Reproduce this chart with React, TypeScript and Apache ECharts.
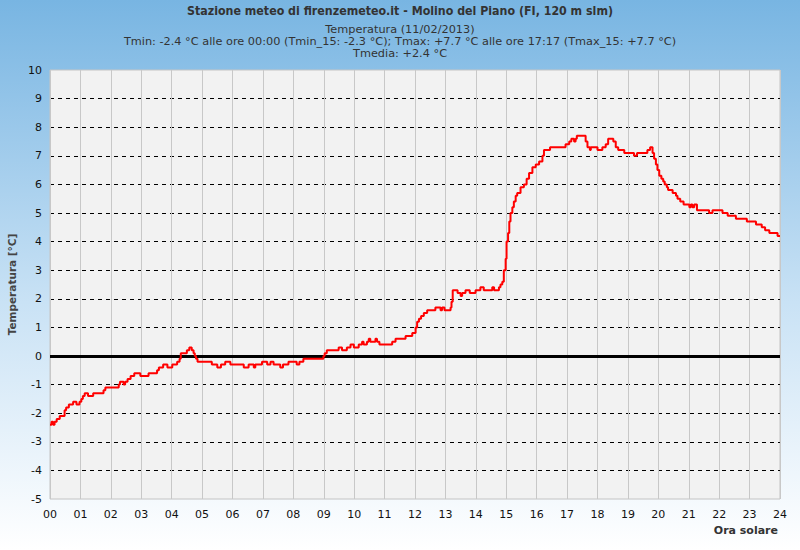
import React, { useEffect, useRef } from "react";
import * as echarts from "echarts";

// Time of each change (decimal hours) and temperature from that time on (°C)
const hours = [
  0.0, 0.05, 0.1, 0.15, 0.22, 0.32, 0.48, 0.53, 0.62, 0.76, 0.87, 0.97, 1.03, 1.08, 1.14, 1.25, 1.42,
  1.76, 1.82, 2.26, 2.3, 2.42, 2.47, 2.55, 2.65, 2.77, 2.97, 3.24, 3.52, 3.58, 3.72, 3.86, 4.02, 4.18,
  4.26, 4.3, 4.5, 4.58, 4.66, 4.72, 4.76, 4.8, 4.85, 5.32, 5.5, 5.62, 5.76, 5.93, 6.37, 6.53, 6.7,
  6.75, 6.97, 7.14, 7.25, 7.35, 7.57, 7.66, 7.84, 8.11, 8.2, 8.33, 8.99, 9.03, 9.1, 9.49, 9.6, 9.76,
  9.88, 9.99, 10.15, 10.26, 10.31, 10.42, 10.48, 10.53, 10.7, 10.75, 10.83, 11.25, 11.36, 11.69,
  11.91, 12.02, 12.07, 12.13, 12.2, 12.29, 12.4, 12.67, 12.84, 12.89, 12.97, 13.17, 13.2, 13.24,
  13.4, 13.5, 13.55, 13.66, 13.8, 13.99, 14.15, 14.26, 14.54, 14.6, 14.76, 14.81, 14.87, 14.92,
  14.98, 15.01, 15.06, 15.1, 15.14, 15.2, 15.25, 15.31, 15.36, 15.47, 15.58, 15.67, 15.75, 15.86,
  15.97, 16.08, 16.19, 16.24, 16.44, 16.95, 17.07, 17.14, 17.23, 17.28, 17.32, 17.61, 17.67, 17.75,
  17.78, 18.0, 18.16, 18.27, 18.35, 18.52, 18.6, 18.68, 18.88, 19.2, 19.3, 19.64, 19.73, 19.81,
  19.86, 19.92, 19.97, 20.03, 20.1, 20.16, 20.21, 20.28, 20.32, 20.47, 20.58, 20.63, 20.72, 20.83,
  21.02, 21.07, 21.12, 21.18, 21.27, 21.67, 21.78, 22.11, 22.28, 22.55, 22.91, 23.21, 23.4, 23.51,
  23.65, 23.92, 24.0,
];
const temps = [
  -2.4, -2.3, -2.4, -2.3, -2.2, -2.1, -1.9, -1.8, -1.7, -1.6, -1.7, -1.6, -1.5, -1.4, -1.3, -1.4, -1.3,
  -1.2, -1.1, -1.0, -0.9, -1.0, -0.9, -0.8, -0.7, -0.6, -0.7, -0.6, -0.5, -0.4, -0.3, -0.4, -0.3, -0.2,
  -0.1, 0.1, 0.2, 0.3, 0.2, 0.1, 0.0, -0.1, -0.2, -0.3, -0.4, -0.3, -0.2, -0.3, -0.4, -0.3, -0.4,
  -0.3, -0.2, -0.3, -0.2, -0.3, -0.4, -0.3, -0.2, -0.3, -0.2, -0.1, 0.0, 0.1, 0.2, 0.3, 0.2, 0.3,
  0.4, 0.3, 0.4, 0.5, 0.4, 0.5, 0.6, 0.5, 0.6, 0.5, 0.4, 0.5, 0.6, 0.7,
  0.8, 1.0, 1.2, 1.3, 1.4, 1.5, 1.6, 1.7, 1.6, 1.7, 1.6, 1.7, 1.9, 2.3,
  2.2, 2.1, 2.2, 2.3, 2.2, 2.3, 2.4, 2.3, 2.4, 2.3, 2.4, 2.5, 2.6, 3.0,
  3.4, 4.0, 4.3, 4.7, 5.0, 5.2, 5.4, 5.6, 5.7, 5.9, 6.0, 6.2, 6.4, 6.6,
  6.7, 6.8, 7.0, 7.2, 7.3, 7.4, 7.5, 7.6, 7.5, 7.6, 7.7, 7.5, 7.3, 7.2,
  7.3, 7.2, 7.3, 7.4, 7.6, 7.5, 7.3, 7.2, 7.1, 7.0, 7.1, 7.2, 7.3, 7.1,
  6.9, 6.7, 6.5, 6.3, 6.2, 6.1, 6.0, 5.9, 5.8, 5.7, 5.6, 5.5, 5.4, 5.3,
  5.2, 5.3, 5.2, 5.3, 5.1, 5.0, 5.1, 5.0, 4.9, 4.8, 4.7, 4.6, 4.5, 4.4,
  4.3, 4.2, 4.2,
];

const xTickLabels = [
  "00", "01", "02", "03", "04", "05", "06", "07", "08", "09", "10", "11", "12",
  "13", "14", "15", "16", "17", "18", "19", "20", "21", "22", "23", "24",
];
const yMin = -5;
const yMax = 10;

const titleText = "Stazione meteo di firenzemeteo.it - Molino del Piano (FI, 120 m slm)";
const subtitleLines = [
  "Temperatura (11/02/2013)",
  "Tmin: -2.4 °C alle ore 00:00 (Tmin_15: -2.3 °C); Tmax: +7.7 °C alle ore 17:17 (Tmax_15: +7.7 °C)",
  "Tmedia: +2.4 °C",
];
const yAxisName = "Temperatura [°C]";
const xAxisName = "Ora solare";

const SANS = "'DejaVu Sans', sans-serif";
const COND = "'DejaVu Sans Condensed', 'DejaVu Sans', sans-serif";

export default function App() {
  const ref = useRef<HTMLDivElement>(null);

  useEffect(() => {
    if (!ref.current) return;
    const chart = echarts.init(ref.current, undefined, { renderer: "svg" });
    const data = hours.map((h, i) => [h, temps[i]]);
    chart.setOption({
      animation: false,
      backgroundColor: "transparent",
      title: {
        text: titleText,
        subtext: subtitleLines.join("\n"),
        left: "center",
        top: 0,
        itemGap: 6,
        textStyle: {
          fontFamily: COND,
          fontSize: 12.3,
          fontWeight: "bold",
          color: "#333",
        },
        subtextStyle: {
          fontFamily: SANS,
          fontSize: 11.3,
          lineHeight: 12,
          color: "#333",
        },
      },
      grid: {
        left: 50,
        right: 20,
        top: 70,
        bottom: 51,
        show: true,
        outerBoundsMode: "none",
        containLabel: false,
        backgroundColor: "#f2f2f2",
        borderColor: "#c4c4c4",
        borderWidth: 1,
      },
      xAxis: {
        type: "value",
        min: 0,
        max: 24,
        interval: 1,
        name: xAxisName,
        nameLocation: "end",
        nameGap: -2,
        nameTextStyle: {
          fontFamily: SANS,
          fontSize: 11,
          fontWeight: "bold",
          color: "#333",
          align: "right",
          verticalAlign: "top",
          padding: [26, 0, 0, 0],
        },
        axisLine: { show: false, onZero: false },
        axisTick: { show: false },
        axisLabel: {
          margin: 10,
          fontSize: 11,
          color: "#111",
          fontFamily: SANS,
          formatter: (v: number) => xTickLabels[Math.round(v)] ?? "",
        },
        splitLine: {
          show: true,
          lineStyle: { color: "#c8c8c8", width: 1, type: "solid" },
        },
      },
      yAxis: {
        type: "value",
        min: yMin,
        max: yMax,
        interval: 1,
        name: yAxisName,
        nameLocation: "middle",
        nameGap: 32,
        nameTextStyle: {
          fontFamily: SANS,
          fontSize: 10.5,
          fontWeight: "bold",
          color: "#444",
        },
        axisLine: { show: false },
        axisTick: { show: false },
        axisLabel: {
          margin: 8,
          fontSize: 11,
          color: "#111",
          fontFamily: SANS,
        },
        splitLine: {
          show: true,
          showMinLine: false,
          showMaxLine: false,
          lineStyle: { color: "#000", width: 1, type: [4, 4] },
        },
      },
      series: [
        {
          type: "line",
          step: "end",
          data,
          showSymbol: false,
          symbol: "none",
          lineStyle: { color: "#ff0000", width: 2 },
          itemStyle: { color: "#ff0000" },
          z: 3,
          markLine: {
            silent: true,
            symbol: ["none", "none"],
            label: { show: false },
            lineStyle: { color: "#000", width: 3, type: "solid" },
            data: [{ yAxis: 0 }],
            z: 2,
          },
        },
      ],
    });
    return () => chart.dispose();
  }, []);

  return (
    <div
      style={{
        position: "fixed",
        left: 0,
        top: 0,
        width: 800,
        height: 550,
        background: "linear-gradient(to bottom, #78b5e2 0%, #c9e2f5 55%, #ffffff 100%)",
      }}
    >
      <div ref={ref} style={{ width: 800, height: 550 }} />
    </div>
  );
}
